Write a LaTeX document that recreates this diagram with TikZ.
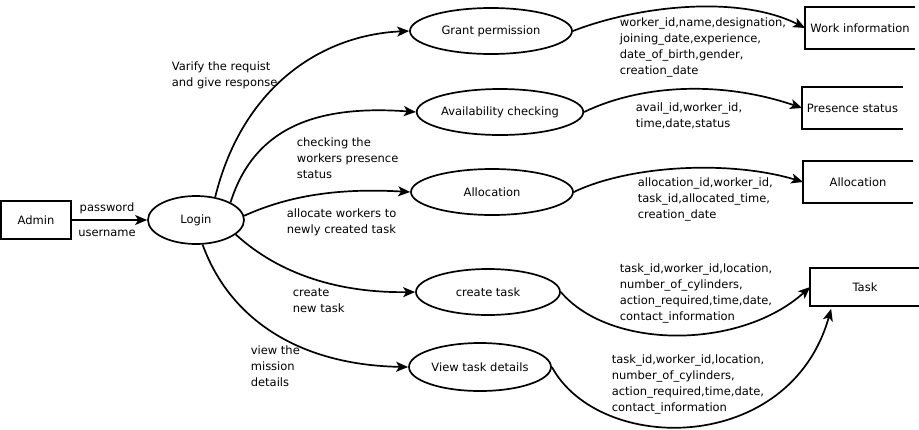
\documentclass[tikz,border=0pt]{standalone}
\usepackage{fontspec}
\setmainfont{DejaVu Sans}
\usetikzlibrary{shapes.geometric,arrows.meta}
\begin{document}
\begin{tikzpicture}[x=1pt,y=-1pt,
  font=\fontsize{11.5}{16}\selectfont,
  line width=1.7pt,
  proc/.style={ellipse,draw,inner sep=0pt},
  ent/.style={rectangle,draw,inner sep=0pt,minimum width=70pt,minimum height=38pt},
  store/.style={rectangle,inner sep=0pt,minimum height=40pt},
  lbl/.style={anchor=west,align=left,inner sep=0pt},
  flow/.style={-{Stealth[length=12pt,width=10pt,inset=3pt]}}
]
\useasboundingbox (0,0) rectangle (919,429);

% external entity and login
\node[ent] (admin) at (36,220) {Admin};
\node[proc,minimum width=96pt,minimum height=48pt] (login) at (196,220) {Login};

% processes
\node[proc,minimum width=162pt,minimum height=46pt] (grant) at (491,31) {Grant permission};
\node[proc,minimum width=166pt,minimum height=46pt] (avail) at (500,112) {Availability checking};
\node[proc,minimum width=162pt,minimum height=46pt] (alloc) at (492,192) {Allocation};
\node[proc,minimum width=144pt,minimum height=46pt] (create) at (488,292) {create task};
\node[proc,minimum width=142pt,minimum height=48pt] (view) at (480,367) {View task details};

% data stores (open on the right)
\node[store,minimum width=108pt] (work) at (860,28) {Work information};
\node[store,minimum width=99pt] (pres) at (852.5,108) {Presence status};
\node[store,minimum width=108pt] (allocs) at (858,182) {Allocation};
\node[store,minimum width=108pt,minimum height=36pt] (task) at (865,287) {Task};
\foreach \s in {work,pres,allocs,task}
  \draw (\s.north east) -- (\s.north west) -- (\s.south west) -- (\s.south east);

% admin -> login
\draw[flow] (admin) -- (login);
\node (pw) at (107,208) {password};
\node (un) at (107,233) {username};

% login -> processes
\draw[flow] (login.50) .. controls (242,88) and (320,35) .. (grant.west);
\draw[flow] (login.27) .. controls (255,125) and (320,105) .. (avail.west);
\draw[flow] (login.5) .. controls (290,195) and (340,188) .. (alloc.west);
\draw[flow] (login.-20) .. controls (280,275) and (340,293) .. (create.west);
\draw[flow] (login.-75) .. controls (230,320) and (300,365) .. (view.west);

\node[lbl] (l1) at (171,75) {Varify the requist\\and give response};
\node[lbl] (l2) at (296,158) {checking the\\workers presence\\status};
\node[lbl] (l3) at (286,222) {allocate workers to\\newly created task};
\node[lbl] (l4) at (292,301) {create\\new task};
\node[lbl] (l5) at (250,366) {view the\\mission\\details};

% processes -> stores
\draw[flow] (grant.east) .. controls (640,5) and (740,-5) .. (work.west);
\draw[flow] (avail.east) .. controls (640,85) and (720,80) .. (pres.west);
\draw[flow] (alloc.east) .. controls (630,165) and (730,160) .. (allocs.west);
\draw[flow] (create.east) .. controls (610,350) and (740,350) .. (task.west);
\draw[flow] (view.east) .. controls (600,455) and (790,455) .. ([xshift=21pt,yshift=-3pt]task.south west);

\node[lbl] (d1) at (619,47) {worker\_id,name,designation,\\joining\_date,experience,\\date\_of\_birth,gender,\\creation\_date};
\node[lbl] (d2) at (635,116) {avail\_id,worker\_id,\\time,date,status};
\node[lbl] (d3) at (637,199) {allocation\_id,worker\_id,\\task\_id,allocated\_time,\\creation\_date};
\node[lbl] (d4) at (619,293) {task\_id,worker\_id,location,\\number\_of\_cylinders,\\action\_required,time,date,\\contact\_information};
\node[lbl] (d5) at (611,384) {task\_id,worker\_id,location,\\number\_of\_cylinders,\\action\_required,time,date,\\contact\_information};
\end{tikzpicture}
\end{document}
